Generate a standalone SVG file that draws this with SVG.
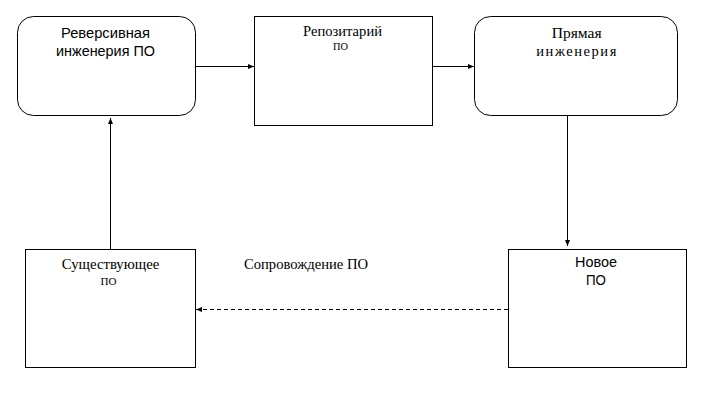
<svg xmlns="http://www.w3.org/2000/svg" width="702" height="402" viewBox="0 0 702 402">
<defs>
<style>
.box{fill:#fff;stroke:#000;stroke-width:1}
.sans{font-family:"Liberation Sans",Arial,sans-serif;font-size:15px;fill:#000;text-anchor:middle}
.serif{font-family:"Liberation Serif","Times New Roman",serif;font-size:14.5px;fill:#000;text-anchor:middle}
.small{font-family:"Liberation Serif","Times New Roman",serif;font-size:11px;fill:#000;text-anchor:middle}
.ln{stroke:#000;stroke-width:1;fill:none}
.dash{stroke-dasharray:4 3}
</style>
<marker id="ah" viewBox="0 0 6 5" refX="6" refY="2.5" markerWidth="6" markerHeight="5" markerUnits="userSpaceOnUse" orient="auto">
<path d="M0,0 L6,2.5 L0,5 Z" fill="#000"/>
</marker>
</defs>
<rect width="702" height="402" fill="#fff"/>
<g id="connectors">
<line class="ln" x1="195.5" y1="66.5" x2="254" y2="66.5" marker-end="url(#ah)"/>
<line class="ln" x1="432.5" y1="66.5" x2="474" y2="66.5" marker-end="url(#ah)"/>
<line class="ln" x1="567.5" y1="116" x2="567.5" y2="246" marker-end="url(#ah)"/>
<line class="ln dash" x1="508" y1="309.5" x2="196" y2="309.5" marker-end="url(#ah)"/>
<line class="ln" x1="110.5" y1="249" x2="110.5" y2="118" marker-end="url(#ah)"/>
</g>
<g id="node-reverse">
<rect class="box" x="17.5" y="16.5" width="178" height="99" rx="16" ry="16"/>
<text class="sans" x="105.5" y="38" textLength="89" lengthAdjust="spacingAndGlyphs">Реверсивная</text>
<text class="sans" x="105.5" y="56" textLength="99" lengthAdjust="spacingAndGlyphs">инженерия ПО</text>
</g>
<g id="node-repo">
<rect class="box" x="254.5" y="16.5" width="178" height="109"/>
<text class="serif" x="342.5" y="35.5" textLength="79" lengthAdjust="spacingAndGlyphs">Репозитарий</text>
<text class="small" x="340.5" y="50" textLength="15" lengthAdjust="spacingAndGlyphs">ПО</text>
</g>
<g id="node-forward">
<rect class="box" x="474.5" y="16.5" width="203" height="99" rx="16" ry="16"/>
<text class="serif" x="576.7" y="38" textLength="50" lengthAdjust="spacingAndGlyphs">Прямая</text>
<text class="serif" x="576.3" y="55.5" textLength="80" lengthAdjust="spacing">инженерия</text>
</g>
<g id="node-new">
<rect class="box" x="508.5" y="249.5" width="178" height="118"/>
<text class="sans" x="596" y="267" textLength="42" lengthAdjust="spacingAndGlyphs">Новое</text>
<text class="sans" x="596" y="284.5" textLength="20" lengthAdjust="spacingAndGlyphs">ПО</text>
</g>
<g id="node-existing">
<rect class="box" x="25.5" y="249.5" width="170" height="118"/>
<text class="serif" x="110.5" y="268.5" textLength="97.5" lengthAdjust="spacingAndGlyphs">Существующее</text>
<text class="small" x="108.5" y="285" textLength="16" lengthAdjust="spacingAndGlyphs">ПО</text>
</g>
<g id="label-maintenance">
<text class="serif" x="306" y="268.5" textLength="124" lengthAdjust="spacingAndGlyphs">Сопровождение ПО</text>
</g>
</svg>
